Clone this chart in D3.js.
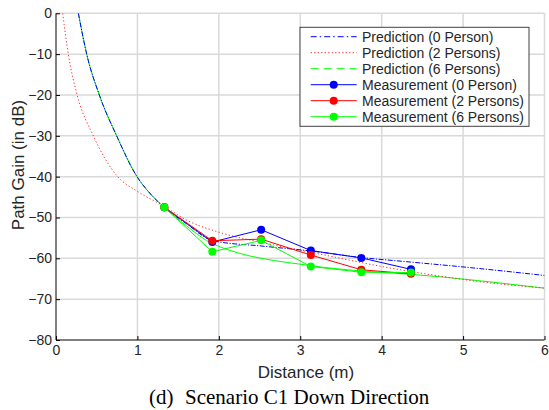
<!DOCTYPE html>
<html><head><meta charset="utf-8">
<script src="https://cdn.jsdelivr.net/npm/d3@7"></script>
<style>
body{margin:0;background:#fff}
svg{display:block}
text{font-family:"Liberation Sans",Arial,Helvetica,sans-serif;fill:#262626}
</style>
</head><body>
<svg id="c" width="549" height="410"></svg>
<script>
// ---------- data ----------
const xTicks = [0, 1, 2, 3, 4, 5, 6];
const yTicks = [0, -10, -20, -30, -40, -50, -60, -70, -80];

// prediction curves
const predDist0 = [0.275, 0.377, 0.532, 0.745, 0.995, 1.15, 1.33, 1.6, 1.93, 2.53, 3.13, 3.75, 4.35, 5.2, 6.0];
const pred0     = [0, -10, -20, -30, -40, -44.0, -47.5, -51.5, -55.7, -57.0, -58.2, -59.8, -60.9, -62.5, -64.2];

const predDist2 = [0.082, 0.151, 0.26, 0.458, 0.758, 1.0, 1.33, 1.6, 2.0, 2.6, 3.3, 4.0, 4.6, 5.2, 6.0];
const pred2     = [0, -10, -20, -30, -40, -43.6, -47.3, -50.6, -53.6, -56.4, -59.2, -62.0, -64.0, -65.7, -67.3];

const predDist6 = [0.275, 0.377, 0.532, 0.745, 0.995, 1.15, 1.33, 1.6, 1.93, 3.13, 3.75, 4.35, 6.0];
const pred6     = [0, -10, -20, -30, -40, -44.0, -47.5, -52.0, -56.5, -61.8, -63.1, -63.9, -67.3];

// measurements
const measDist = [1.33, 1.92, 2.52, 3.13, 3.75, 4.36];
const meas0 = [-47.5, -56.0, -53.0, -58.1, -59.9, -62.7];
const meas2 = [-47.5, -55.7, -55.3, -59.2, -62.8, -63.8];
const meas6 = [-47.5, -58.4, -55.6, -62.0, -63.4, -63.5];

const legendLabels = ["Prediction (0 Person)", "Prediction (2 Persons)", "Prediction (6 Persons)",
                      "Measurement (0 Person)", "Measurement (2 Persons)", "Measurement (6 Persons)"];
const xLabel = "Distance (m)";
const yLabel = "Path Gain (in dB)";
const captionTag = "(d)";
const captionText = "Scenario C1 Down Direction";

// ---------- layout ----------
const M = {l: 56, r: 544.5, t: 13.3, b: 340};
const svg = d3.select("#c");
const x = d3.scaleLinear().domain([0, 6]).range([M.l, M.r]);
const y = d3.scaleLinear().domain([-80, 0]).range([M.b, M.t]);

svg.append("defs").append("clipPath").attr("id", "clip")
  .append("rect").attr("x", M.l).attr("y", M.t).attr("width", M.r - M.l).attr("height", M.b - M.t);

// grid
const grid = svg.append("g");
grid.selectAll("line.gx").data(xTicks.slice(1)).join("line")
  .attr("x1", d => x(d)).attr("x2", d => x(d)).attr("y1", M.t).attr("y2", M.b)
  .attr("stroke", "#d9d9d9").attr("stroke-width", 1.5);
grid.selectAll("line.gy").data(yTicks.slice(0, -1)).join("line")
  .attr("x1", M.l).attr("x2", M.r).attr("y1", d => y(d)).attr("y2", d => y(d))
  .attr("stroke", "#d9d9d9").attr("stroke-width", 1.5);

// series
const line = d3.line().x(d => x(d[0])).y(d => y(d[1])).curve(d3.curveMonotoneX);
const lin = d3.line().x(d => x(d[0])).y(d => y(d[1]));
const zip = (a, b) => a.map((v, i) => [v, b[i]]);

const plot = svg.append("g").attr("clip-path", "url(#clip)");
const preds = [
  {d: zip(predDist6, pred6), c: "#00ff00", dash: null},
  {d: zip(predDist2, pred2), c: "#ff3030", dash: "1.3,2.2"},
  {d: zip(predDist0, pred0), c: "#0000ff", dash: "5,1.5,1.2,1.5"}
];
preds.forEach(p => {
  plot.append("path").attr("d", line(p.d)).attr("fill", "none")
    .attr("stroke", p.c).attr("stroke-width", 1).attr("stroke-dasharray", p.dash);
});

const meas = [
  {v: meas0, c: "#0000ff"},
  {v: meas2, c: "#ff0000"},
  {v: meas6, c: "#00ff00"}
];
meas.forEach(m => {
  const pts = zip(measDist, m.v);
  plot.append("path").attr("d", lin(pts)).attr("fill", "none")
    .attr("stroke", m.c).attr("stroke-width", 1);
  plot.selectAll(null).data(pts).join("circle")
    .attr("cx", d => x(d[0])).attr("cy", d => y(d[1])).attr("r", 4)
    .attr("fill", m.c);
});

// axes
const xAxis = d3.axisBottom(x).tickValues(xTicks).tickFormat(d3.format("d")).tickSize(-4).tickPadding(5);
const yAxis = d3.axisLeft(y).tickValues(yTicks).tickFormat(d3.format("d")).tickSize(-4).tickPadding(4);
const gx = svg.append("g").attr("transform", `translate(0,${M.b})`).call(xAxis);
const gy = svg.append("g").attr("transform", `translate(${M.l},0)`).call(yAxis);
[gx, gy].forEach(g => {
  g.select(".domain").attr("stroke", "#000").attr("stroke-width", 1);
  g.selectAll(".tick line").attr("stroke", "#000");
  g.selectAll(".tick text").attr("font-size", 14).attr("fill", "#262626")
    .attr("font-family", '"Liberation Sans",Arial,sans-serif');
});
gx.select(".domain").attr("d", `M${M.l},0H${M.r}`);
gy.select(".domain").attr("d", `M0,${M.b}V${M.t}`);

// labels
svg.append("text").attr("x", 306).attr("y", 378).attr("text-anchor", "middle")
  .attr("font-size", 17).text(xLabel);
svg.append("text").attr("transform", `translate(24,165) rotate(-90)`)
  .attr("text-anchor", "middle").attr("font-size", 17).text(yLabel);
const cap = svg.append("text").attr("y", 404).attr("font-size", 21)
  .style("font-family", '"Liberation Serif","Times New Roman",serif').style("fill", "#000");
cap.append("tspan").attr("x", 149).text(captionTag);
cap.append("tspan").attr("x", 185).text(captionText);

// legend
const lg = svg.append("g");
lg.append("rect").attr("x", 300).attr("y", 27.3).attr("width", 229).attr("height", 99)
  .attr("fill", "#fff").attr("stroke", "#404040").attr("stroke-width", 1);
const rows = [
  {c: "#0000ff", dash: "6,3,1.5,3", m: false},
  {c: "#ff3030", dash: "1.3,2.2", m: false},
  {c: "#00ff00", dash: "8,5", m: false},
  {c: "#0000ff", dash: null, m: true},
  {c: "#ff0000", dash: null, m: true},
  {c: "#00ff00", dash: null, m: true}
];
rows.forEach((r, i) => {
  const yy = 36.7 + i * 16;
  lg.append("line").attr("x1", 310.7).attr("x2", 356.7).attr("y1", yy).attr("y2", yy)
    .attr("stroke", r.c).attr("stroke-width", 1).attr("stroke-dasharray", r.dash);
  if (r.m) lg.append("circle").attr("cx", 333.7).attr("cy", yy).attr("r", 4).attr("fill", r.c);
  lg.append("text").attr("x", 362).attr("y", yy + 5).attr("font-size", 14).text(legendLabels[i]);
});
</script>
</body></html>
